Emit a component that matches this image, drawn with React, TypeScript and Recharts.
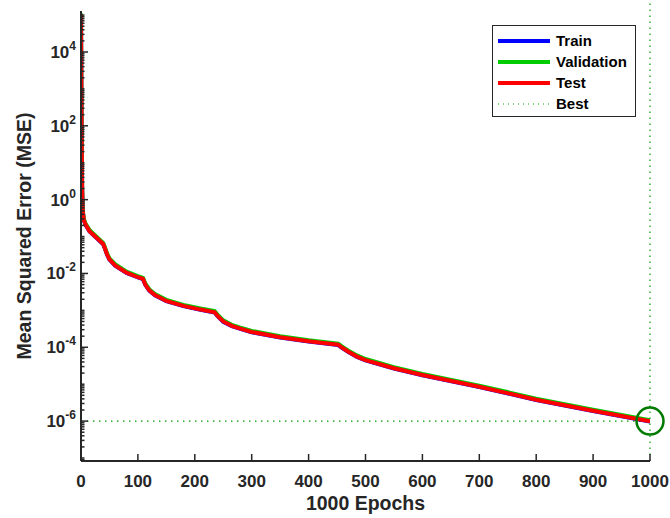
import { Label, Legend, Line, LineChart, ReferenceDot, ReferenceLine, XAxis, YAxis } from 'recharts'

const epochs = [
  0, 1, 2, 3, 5, 8, 15, 25, 39, 42, 46, 50, 60, 80, 100, 109, 113, 120, 130, 150, 180, 210, 235, 240, 250,
  265, 280, 300, 350, 400, 452, 458, 470, 485, 500, 550, 600, 700, 800, 900, 1000,
]
const trainPerf = [
  1.03e5, 98, 1.97, 0.49, 0.275, 0.206, 0.138, 0.098, 0.062, 0.047, 0.0315, 0.0236, 0.0163, 0.0103, 0.0078,
  0.007, 0.0049, 0.00345, 0.00256, 0.00177, 0.0013, 0.00103, 8.75e-4, 7.0e-4, 4.92e-4, 3.74e-4, 3.15e-4,
  2.56e-4, 1.83e-4, 1.43e-4, 1.15e-4, 9.85e-5, 7.48e-5, 5.5e-5, 4.43e-5, 2.66e-5, 1.75e-5, 8.37e-6, 3.74e-6,
  1.87e-6, 0.975e-6,
]
const validationPerf = [
  1.12e5, 107, 2.14, 0.535, 0.3, 0.225, 0.15, 0.107, 0.0674, 0.0514, 0.0342, 0.0257, 0.0178, 0.0112, 0.00845,
  0.0076, 0.00535, 0.00375, 0.00278, 0.00193, 0.00141, 0.00112, 9.5e-4, 7.6e-4, 5.35e-4, 4.07e-4, 3.42e-4,
  2.78e-4, 1.99e-4, 1.55e-4, 1.25e-4, 1.07e-4, 8.1e-5, 6.0e-5, 4.8e-5, 2.9e-5, 1.9e-5, 9.1e-6, 4.07e-6,
  2.03e-6, 1.06e-6,
]
const testPerf = [
  1.05e5, 100, 2.0, 0.5, 0.28, 0.21, 0.14, 0.1, 0.063, 0.048, 0.032, 0.024, 0.0166, 0.0105, 0.0079, 0.0071,
  0.005, 0.0035, 0.0026, 0.0018, 0.00132, 0.00105, 8.9e-4, 7.1e-4, 5.0e-4, 3.8e-4, 3.2e-4, 2.6e-4, 1.86e-4,
  1.45e-4, 1.17e-4, 1.0e-4, 7.6e-5, 5.6e-5, 4.5e-5, 2.7e-5, 1.78e-5, 8.5e-6, 3.8e-6, 1.9e-6, 0.99e-6,
]

const xTicks = [0, 100, 200, 300, 400, 500, 600, 700, 800, 900, 1000]
const yLabelExponents = [-6, -4, -2, 0, 2, 4]
const yDomain = [8.3e-8, 1.29e5]

const bestEpoch = 1000
const bestPerf = 1e-6

const legendItems = [
  { name: 'Train', color: '#0000ff', dotted: false },
  { name: 'Validation', color: '#00cc00', dotted: false },
  { name: 'Test', color: '#ff0000', dotted: false },
  { name: 'Best', color: '#00a000', dotted: true },
]

const data = epochs.map((epoch, i) => ({
  epoch,
  train: trainPerf[i],
  validation: validationPerf[i],
  test: testPerf[i],
}))

// major + minor log ticks (k * 10^n) inside the visible range
const yTicks: number[] = []
for (let n = -8; n <= 5; n++) {
  for (let k = 1; k <= 9; k++) {
    const v = parseFloat(`${k}e${n}`)
    if (v >= yDomain[0] && v <= yDomain[1]) yTicks.push(v)
  }
}

const INK = '#262626'
const FONT = '"Liberation Sans", Arial, Helvetica, sans-serif'
const BEST_GREEN = '#00a000'

function YTick({ x, y, payload }: any) {
  const v: number = payload.value
  const e = Math.log10(v)
  const exp = Math.round(e)
  const isDecade = Math.abs(e - exp) < 1e-9
  const labelled = isDecade && yLabelExponents.includes(exp)
  return (
    <g>
      <line x1={x} x2={x + (labelled ? 7 : 3.5)} y1={y} y2={y} stroke={INK} strokeWidth={1.5} />
      {labelled && (
        <text x={x - 5} y={y + 6} textAnchor="end" fill={INK} fontFamily={FONT} fontWeight="bold" fontSize={17}>
          <tspan>10</tspan>
          <tspan dy={-8} fontSize={12}>
            {exp}
          </tspan>
        </text>
      )}
    </g>
  )
}

function XTick({ x, y, payload }: any) {
  return (
    <g>
      <line x1={x} x2={x} y1={y} y2={y - 7} stroke={INK} strokeWidth={1.5} />
      <text x={x} y={y + 26} textAnchor="middle" fill={INK} fontFamily={FONT} fontWeight="bold" fontSize={17}>
        {payload.value}
      </text>
    </g>
  )
}

function PerfLegend() {
  return (
    <div
      style={{
        border: `1.5px solid ${INK}`,
        background: '#fff',
        padding: '4px 0 4px 5px',
        fontFamily: FONT,
        fontWeight: 'bold',
        fontSize: 15,
        color: '#000',
        boxSizing: 'border-box',
        width: 144,
        height: 92,
      }}
    >
      {legendItems.map((item) => (
        <div key={item.name} style={{ display: 'flex', alignItems: 'center', height: 21 }}>
          <svg width={52} height={6} style={{ marginRight: 6 }}>
            <line
              x1={0}
              x2={52}
              y1={3}
              y2={3}
              stroke={item.color}
              strokeWidth={item.dotted ? 1 : 4}
              strokeDasharray={item.dotted ? '1 4' : undefined}
            />
          </svg>
          <span>{item.name}</span>
        </div>
      ))}
    </div>
  )
}

export default function App() {
  return (
    <div style={{ position: 'absolute', left: 0, top: 0, background: '#fff' }}>
      <LineChart width={670} height={518} data={data} margin={{ top: 11, right: 20, bottom: 0, left: 0 }}>
        <XAxis
          dataKey="epoch"
          type="number"
          domain={[0, 1000]}
          ticks={xTicks}
          interval={0}
          height={57}
          tickSize={0}
          tickMargin={0}
          tickLine={false}
          tick={<XTick />}
          axisLine={{ stroke: INK, strokeWidth: 2 }}
          allowDataOverflow
        >
          <Label
            content={({ viewBox }: any) => (
              <text
                x={viewBox.x + viewBox.width / 2}
                y={viewBox.y + 49}
                textAnchor="middle"
                fill={INK}
                fontFamily={FONT}
                fontWeight="bold"
                fontSize={19.5}
              >
                1000 Epochs
              </text>
            )}
          />
        </XAxis>
        <YAxis
          scale="log"
          type="number"
          domain={yDomain}
          ticks={yTicks}
          interval={0}
          width={81}
          tickSize={0}
          tickMargin={0}
          tickLine={false}
          tick={<YTick />}
          axisLine={{ stroke: INK, strokeWidth: 2 }}
          allowDataOverflow
        >
          <Label
            content={({ viewBox }: any) => {
              const cx = viewBox.x + 31
              const cy = viewBox.y + viewBox.height / 2
              return (
                <text
                  x={cx}
                  y={cy}
                  transform={`rotate(-90, ${cx}, ${cy})`}
                  textAnchor="middle"
                  fill={INK}
                  fontFamily={FONT}
                  fontWeight="bold"
                  fontSize={19.5}
                >
                  Mean Squared Error (MSE)
                </text>
              )
            }}
          />
        </YAxis>
        <ReferenceLine y={bestPerf} stroke={BEST_GREEN} strokeWidth={1.2} strokeDasharray="1.5 4.5" />
        <ReferenceLine
          segment={[
            { x: bestEpoch, y: yDomain[0] },
            { x: bestEpoch, y: 2.6e5 },
          ]}
          ifOverflow="visible"
          stroke={BEST_GREEN}
          strokeWidth={1.2}
          strokeDasharray="1.5 4.5"
        />
        <Line dataKey="train" stroke="#0000ff" strokeWidth={4} dot={false} isAnimationActive={false} />
        <Line dataKey="validation" stroke="#00cc00" strokeWidth={4} dot={false} isAnimationActive={false} />
        <Line dataKey="test" stroke="#ff0000" strokeWidth={4} dot={false} isAnimationActive={false} />
        <ReferenceDot x={bestEpoch} y={bestPerf} r={13.5} fill="none" stroke="#007a00" strokeWidth={2.5} />
        <Legend
          layout="vertical"
          align="center"
          verticalAlign="middle"
          content={<PerfLegend />}
          wrapperStyle={{ left: 492, top: 25, width: 144, height: 92 }}
        />
      </LineChart>
    </div>
  )
}
